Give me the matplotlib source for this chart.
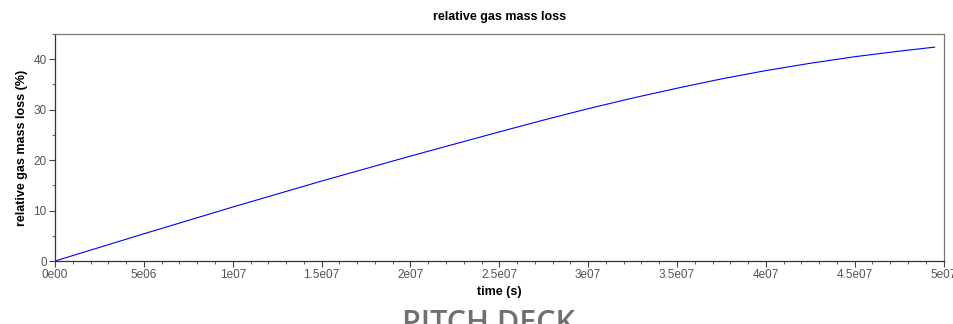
import matplotlib
matplotlib.use("Agg")
import matplotlib.pyplot as plt
from matplotlib.ticker import MultipleLocator

# ── data ──
time_s = [0, 5e6, 1e7, 1.5e7, 2e7, 2.5e7, 2.75e7, 3e7, 3.25e7, 3.5e7,
          3.75e7, 4e7, 4.25e7, 4.5e7, 4.75e7, 4.95e7]
mass_loss = [0, 5.4, 10.7, 15.85, 20.8, 25.6, 27.95, 30.2, 32.3, 34.25,
             36.1, 37.75, 39.2, 40.5, 41.6, 42.4]
x_ticks = [0, 5e6, 1e7, 1.5e7, 2e7, 2.5e7, 3e7, 3.5e7, 4e7, 4.5e7, 5e7]
x_labels = ["0e00", "5e06", "1e07", "1.5e07", "2e07", "2.5e07",
            "3e07", "3.5e07", "4e07", "4.5e07", "5e07"]
y_ticks = [0, 10, 20, 30, 40]

plt.rcParams['font.family'] = ['Liberation Sans', 'DejaVu Sans']

fig = plt.figure(figsize=(9.54, 3.24), dpi=100)
ax = fig.add_axes([0.0577, 0.1944, 0.9313, 0.7006])

ax.plot(time_s, mass_loss, color='#0000ff', lw=0.8)

ax.set_xlim(0, 5e7)
ax.set_ylim(0, 45)
ax.set_xticks(x_ticks)
ax.set_xticklabels(x_labels)
ax.set_yticks(y_ticks)
ax.xaxis.set_minor_locator(MultipleLocator(1e6))
ax.yaxis.set_minor_locator(MultipleLocator(5))

ax.tick_params(which='both', direction='out', color='#444444',
               labelcolor='#555555', labelsize=8.5, top=False, right=False)
ax.tick_params(which='major', length=4, width=0.8, pad=2)
ax.tick_params(which='minor', length=2, width=0.6)
for s in ax.spines.values():
    s.set_color('#777777')
    s.set_linewidth(0.9)
ax.spines['bottom'].set_color('#333333')
ax.spines['left'].set_color('#333333')

ax.set_xlabel('time (s)', fontsize=9, fontweight='bold', labelpad=3)
ax.set_ylabel('relative gas mass loss (%)', fontsize=9, fontweight='bold', labelpad=4)
ax.set_title('relative gas mass loss', fontsize=9, fontweight='bold', pad=10)

# watermark, cut off by the bottom edge
fig.text(0.512, 0.045, 'PITCH DECK', fontsize=22, color='#707070',
         fontweight='semibold', family=['Open Sans', 'DejaVu Sans'],
         ha='center', va='top')

fig.savefig('out.png', dpi=100)
